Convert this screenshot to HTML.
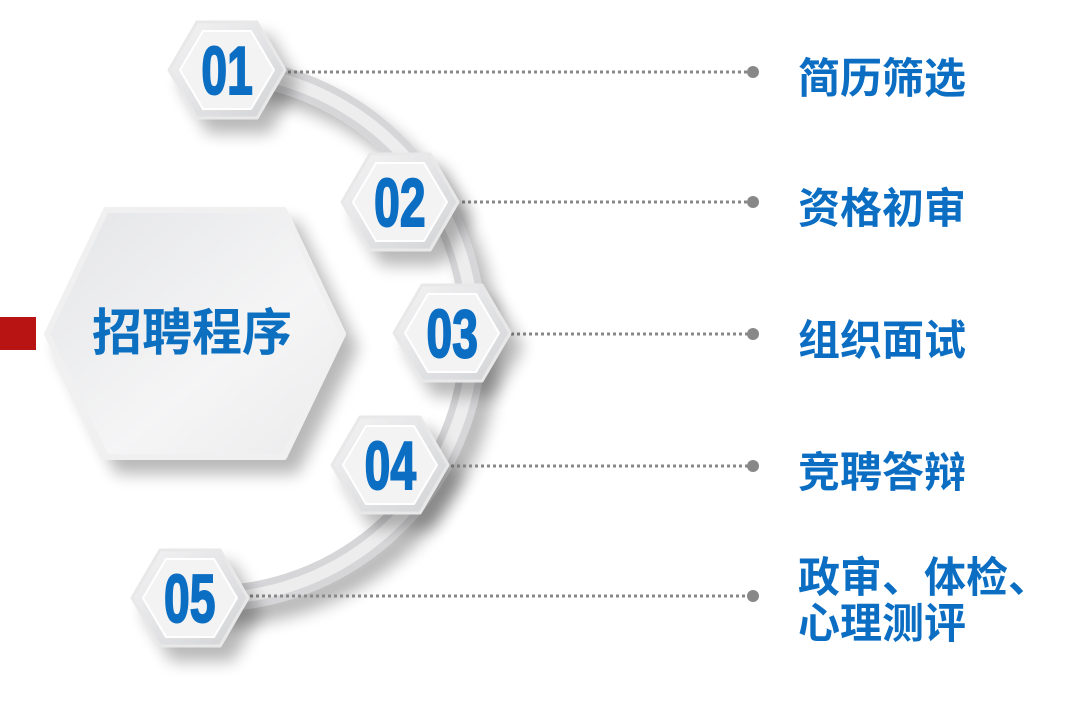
<!DOCTYPE html>
<html><head><meta charset="utf-8"><style>
body{margin:0;width:1078px;height:710px;background:#fff;overflow:hidden;position:relative;font-family:"Liberation Sans","Noto Sans CJK SC",sans-serif}
.lbl{position:absolute;left:798px;font-size:42px;font-weight:bold;color:#0b6ec3;line-height:46px;white-space:nowrap}
</style></head><body>
<svg width="1078" height="710" style="position:absolute;left:0;top:0">
<defs>
<linearGradient id="hg" x1="0" y1="0" x2="1" y2="1"><stop offset="0" stop-color="#e4e5e7"/><stop offset="0.6" stop-color="#f5f5f6"/><stop offset="1" stop-color="#ebebec"/></linearGradient>
<linearGradient id="sg" x1="0" y1="0" x2="1" y2="1"><stop offset="0" stop-color="#f4f4f5"/><stop offset="1" stop-color="#d2d3d5"/></linearGradient>
<filter id="sh" x="-50%" y="-50%" width="200%" height="200%"><feGaussianBlur in="SourceAlpha" stdDeviation="8"/><feOffset dx="12" dy="14"/><feComponentTransfer><feFuncA type="linear" slope="0.28"/></feComponentTransfer><feMerge><feMergeNode/><feMergeNode in="SourceGraphic"/></feMerge></filter>
<g id="hx"><polygon points="-58,0 -30,-48 30,-48 58,0 30,48 -30,48" fill="url(#sg)" stroke="#e8e8e9" stroke-width="3" stroke-linejoin="round"/><polygon points="-47,0 -24,-39 24,-39 47,0 24,39 -24,39" fill="#f3f3f4" stroke="#fff" stroke-width="2" stroke-linejoin="round"/></g>
</defs>
<rect x="0" y="317" width="36" height="33" fill="#b81414"/>
<path d="M227,70 A264,264 0 0 1 190,598" fill="none" stroke="#d6d6d8" stroke-width="26" filter="url(#sh)"/>
<path d="M227,70 A264,264 0 0 1 190,598" fill="none" stroke="#ededee" stroke-width="12"/>
<polygon points="47,334 106,210 284,210 343,334 284,457 106,457" fill="url(#hg)" stroke="#f0f0f1" stroke-width="6" stroke-linejoin="round" filter="url(#sh)"/>
<g stroke="#888" stroke-width="3" stroke-dasharray="3,3">
<line x1="288" y1="72" x2="748" y2="72"/><line x1="450" y1="202" x2="748" y2="202"/><line x1="505" y1="334" x2="748" y2="334"/><line x1="445" y1="466" x2="748" y2="466"/><line x1="250" y1="596" x2="748" y2="596"/></g>
<g fill="#888"><circle cx="753" cy="72" r="6"/><circle cx="753" cy="202" r="6"/><circle cx="753" cy="334" r="6"/><circle cx="753" cy="466" r="6"/><circle cx="753" cy="596" r="6"/></g>
<g filter="url(#sh)"><use href="#hx" x="227" y="70"/><use href="#hx" x="400" y="202"/><use href="#hx" x="452" y="333"/><use href="#hx" x="390" y="465"/><use href="#hx" x="190" y="598"/></g>
<g font-family="Liberation Sans Narrow,Liberation Sans,sans-serif" font-weight="bold" font-size="68" fill="#0b6ec3" text-anchor="middle" transform="scale(0.68,1)" stroke="#0b6ec3" stroke-width="2">
<text x="334" y="94">01</text><text x="588" y="226">02</text><text x="665" y="357">03</text><text x="574" y="489">04</text><text x="279" y="622">05</text></g>
<text x="192" y="350" font-size="50" font-weight="bold" fill="#0c6fc0" text-anchor="middle" font-family="Liberation Sans,Noto Sans CJK SC,sans-serif">招聘程序</text>
</svg>
<div class="lbl" style="top:56px">简历筛选</div>
<div class="lbl" style="top:186px">资格初审</div>
<div class="lbl" style="top:318px">组织面试</div>
<div class="lbl" style="top:450px">竞聘答辩</div>
<div class="lbl" style="top:555px">政审、体检、</div>
<div class="lbl" style="top:601px">心理测评</div>
</body></html>
